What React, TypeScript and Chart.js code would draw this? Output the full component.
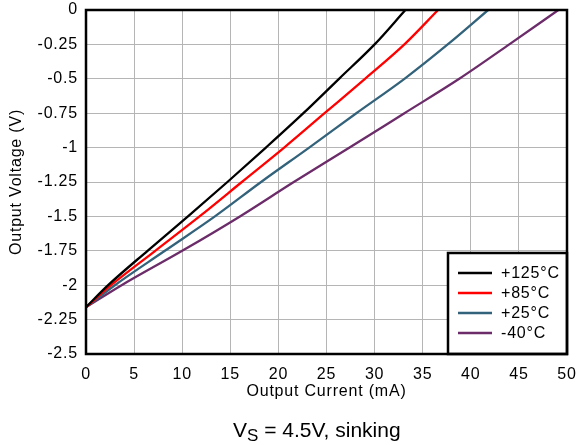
import React, { useEffect, useRef } from "react";
import { Chart, registerables } from "chart.js";

Chart.register(...registerables);

// Output voltage levels (V) at which currents were read
const voltageLevels = [-2.16, -2.0, -1.75, -1.5, -1.25, -1.0, -0.75, -0.5, -0.25, 0];
// Output current (mA) per temperature at each voltage level
const current125 = [0, 2.3, 6.4, 10.6, 14.7, 18.7, 22.6, 26.3, 30.0, 33.2];
const current85 = [0, 2.6, 7.2, 11.8, 16.2, 20.6, 24.8, 29.0, 33.1, 36.6];
const current25 = [0, 3.0, 8.2, 13.4, 18.2, 23.2, 28.1, 33.1, 37.6, 41.8];
const currentM40 = [0, 3.7, 10.0, 16.0, 21.6, 27.4, 33.1, 38.8, 44.0, 49.1];

const seriesLabels = ["+125°C", "+85°C", "+25°C", "-40°C"];
const seriesColors = ["#000000", "#ff0000", "#33627b", "#6b2c69"];

const xTicks = [0, 5, 10, 15, 20, 25, 30, 35, 40, 45, 50];
const yTicks = [-2.5, -2.25, -2, -1.75, -1.5, -1.25, -1, -0.75, -0.5, -0.25, 0];
const yTickLabels = ["-2.5", "-2.25", "-2", "-1.75", "-1.5", "-1.25", "-1", "-0.75", "-0.5", "-0.25", "0"];

const FONT_FAMILY = "'Liberation Sans', Arial, Helvetica, sans-serif";
const LETTER_SPACING = "0.8px";

export default function App() {
  const ref = useRef<HTMLCanvasElement>(null);

  useEffect(() => {
    document.body.style.margin = "0";
    const series = [current125, current85, current25, currentM40];
    const font = { family: FONT_FAMILY, size: 16 };

    const setSpacing = (chart: any) => {
      (chart.ctx as any).letterSpacing = LETTER_SPACING;
    };

    const framePlugin = {
      id: "frameAndLegend",
      beforeInit: setSpacing,
      beforeUpdate: setSpacing,
      beforeLayout: setSpacing,
      beforeDraw: setSpacing,
      afterDatasetsDraw(chart: any) {
        const { ctx, chartArea } = chart;
        const { left, top, right, bottom } = chartArea;
        ctx.save();
        // legend box
        const lw = 119;
        const lh = 101;
        const lx = right - lw;
        const ly = bottom - lh;
        ctx.fillStyle = "#ffffff";
        ctx.fillRect(lx, ly, lw, lh);
        ctx.lineWidth = 2.5;
        ctx.strokeStyle = "#000000";
        ctx.strokeRect(lx, ly, lw, lh);
        ctx.font = `16px ${FONT_FAMILY}`;
        ctx.textBaseline = "middle";
        ctx.textAlign = "left";
        chart.data.datasets.forEach((ds: any, i: number) => {
          const cy = ly + 20 + i * 20;
          ctx.strokeStyle = ds.borderColor;
          ctx.lineWidth = 2.5;
          ctx.beginPath();
          ctx.moveTo(lx + 10, cy);
          ctx.lineTo(lx + 44, cy);
          ctx.stroke();
          ctx.fillStyle = "#000000";
          ctx.fillText(ds.label, lx + 53, cy + 1);
        });
        // plot frame
        ctx.lineWidth = 2.5;
        ctx.strokeStyle = "#000000";
        ctx.strokeRect(left, top, right - left, bottom - top);
        ctx.restore();
      },
    };

    const zeroPadding = (scale: any) => {
      scale.paddingLeft = 0;
      scale.paddingRight = 0;
      scale.paddingTop = 0;
      scale.paddingBottom = 0;
    };

    const chart = new Chart(ref.current as HTMLCanvasElement, {
      type: "line",
      data: {
        datasets: series.map((s, i) => ({
          label: seriesLabels[i],
          data: s.map((x, j) => ({ x, y: voltageLevels[j] })),
          borderColor: seriesColors[i],
          backgroundColor: seriesColors[i],
          borderWidth: 2.3,
          pointRadius: 0,
          cubicInterpolationMode: "monotone",
          fill: false,
        })),
      },
      options: {
        animation: false,
        responsive: false,
        layout: { padding: { top: 10, right: 11, left: 0, bottom: 44 } },
        plugins: {
          legend: { display: false },
          tooltip: { enabled: false },
        },
        scales: {
          x: {
            type: "linear",
            min: 0,
            max: 50,
            afterBuildTicks: (scale: any) => {
              scale.ticks = xTicks.map((v) => ({ value: v }));
            },
            afterFit: (scale: any) => {
              scale.height = 47;
              zeroPadding(scale);
            },
            ticks: { padding: 11, color: "#000000", font, maxRotation: 0, autoSkip: false },
            grid: { color: "#b5b5b5", lineWidth: 1, drawTicks: false },
            border: { display: false },
            title: {
              display: true,
              text: "Output Current (mA)",
              color: "#000000",
              font,
              padding: 0,
            },
          },
          y: {
            type: "linear",
            min: -2.5,
            max: 0,
            afterBuildTicks: (scale: any) => {
              scale.ticks = yTicks.map((v) => ({ value: v }));
            },
            afterFit: (scale: any) => {
              scale.width = 86;
              zeroPadding(scale);
            },
            ticks: {
              padding: 8,
              color: "#000000",
              font,
              autoSkip: false,
              callback: (_v: any, idx: number) => yTickLabels[idx],
            },
            grid: { color: "#b5b5b5", lineWidth: 1, drawTicks: false },
            border: { display: false },
            title: {
              display: true,
              text: "Output Voltage (V)",
              color: "#000000",
              font,
              padding: { top: 7, bottom: 0 },
            },
          },
        },
      },
      plugins: [framePlugin],
    } as any);

    return () => {
      chart.destroy();
    };
  }, []);

  return (
    <div style={{ position: "relative", width: 578, height: 445 }}>
      <canvas ref={ref} width={578} height={445} style={{ display: "block", width: 578, height: 445 }} />
      <div
        style={{
          position: "absolute",
          left: 233,
          top: 419,
          fontFamily: FONT_FAMILY,
          fontSize: 21,
          lineHeight: "21px",
          color: "#000000",
          whiteSpace: "nowrap",
        }}
      >
        V<span style={{ fontSize: 17, position: "relative", top: 4 }}>S</span> = 4.5V, sinking
      </div>
    </div>
  );
}
